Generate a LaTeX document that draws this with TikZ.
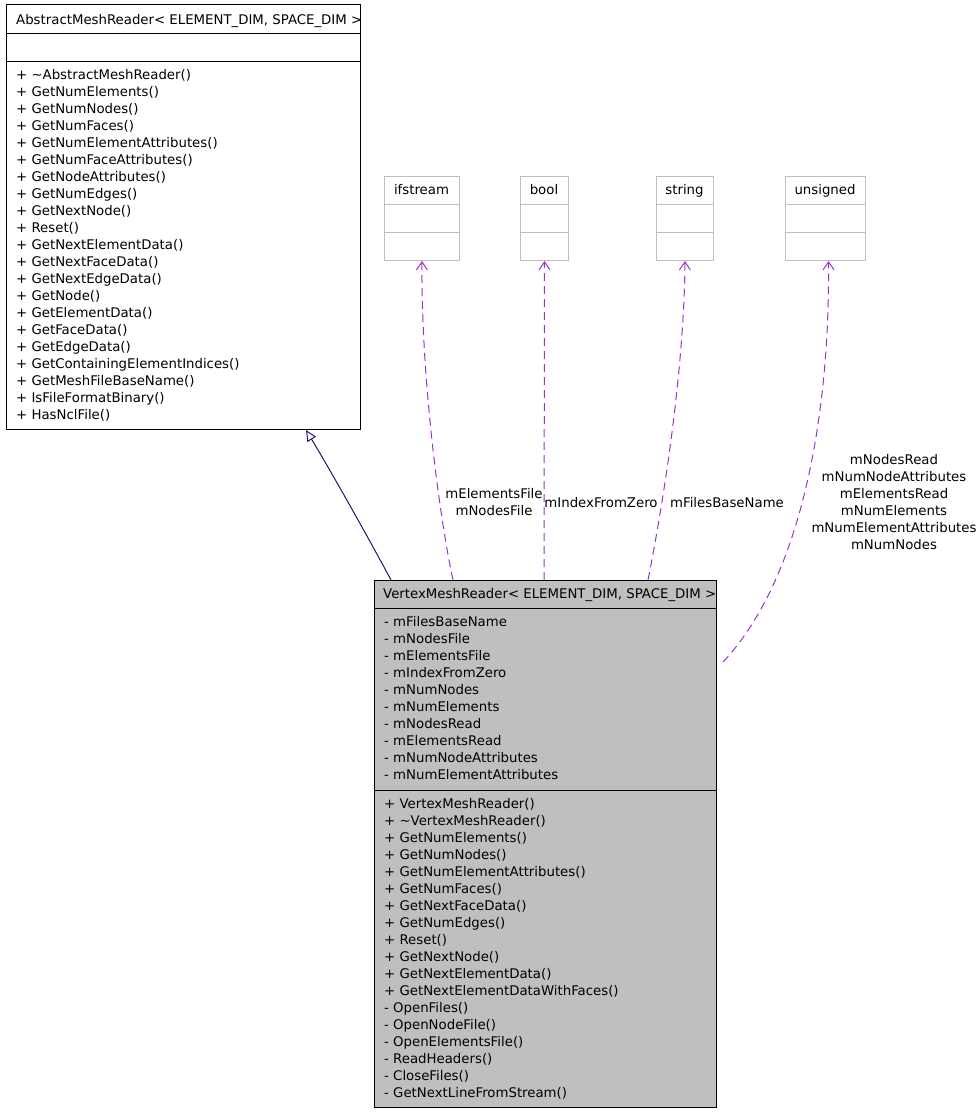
\documentclass[tikz,border=0pt]{standalone}
\usepackage{fontspec}
\setmainfont{DejaVu Sans}
\usetikzlibrary{arrows.meta}

\definecolor{inheritblue}{HTML}{191970}
\definecolor{usepurple}{HTML}{9A32CD}
\definecolor{classgrey}{HTML}{BFBFBF}
\definecolor{framegrey}{HTML}{BFBFBF}

\tikzset{
  box/.style = {draw, line width=1pt, anchor=north west, inner sep=0pt},
  txt/.style = {anchor=base west, inner sep=0pt, font=\fontsize{13.3}{17}\selectfont},
  lbl/.style = {align=center, inner sep=0pt, font=\fontsize{13.3}{17}\selectfont},
  uses/.style = {usepurple, line width=1pt, dash pattern=on 8pt off 5pt,
                 -{Straight Barb[length=8pt, width=11pt]}},
  inherits/.style = {inheritblue, line width=1pt,
                     -{Triangle[open, length=11pt, width=10pt, fill=white]}}
}

\begin{document}
\begin{tikzpicture}[x=1pt, y=-1pt]
        \useasboundingbox (0,0) rectangle (977,1112);
        % base class
        \begin{scope}[name prefix = abstract-]
            \node[box, minimum width=354pt, minimum height=425pt] (box) at (6,4) {};
            \draw[line width=1pt] (6,33) -- (360,33) (6,61) -- (360,61);
            \node[txt] (name) at (16,24) {AbstractMeshReader< ELEMENT\_DIM, SPACE\_DIM >};
            \foreach \op [count=\i from 0] in {\textasciitilde AbstractMeshReader(),
                GetNumElements(), GetNumNodes(), GetNumFaces(), GetNumElementAttributes(),
                GetNumFaceAttributes(), GetNodeAttributes(), GetNumEdges(), GetNextNode(),
                Reset(), GetNextElementData(), GetNextFaceData(), GetNextEdgeData(),
                GetNode(), GetElementData(), GetFaceData(), GetEdgeData(),
                GetContainingElementIndices(), GetMeshFileBaseName(),
                IsFileFormatBinary(), HasNclFile()}
                \node[txt] (op\i) at (16,79+17*\i) {+ \op};
        \end{scope}
        % member types
        \foreach \tname/\xl/\xr in {ifstream/384/459, bool/520/568, string/656/713, unsigned/785/865} {
            \node[box, draw=framegrey, minimum width=\xr-\xl, minimum height=84pt] (\tname) at (\xl,176) {};
            \draw[framegrey, line width=1pt] (\xl,204) -- (\xr,204) (\xl,232) -- (\xr,232);
            \node[txt, anchor=base] (\tname-name) at ({(\xl+\xr)/2},194) {\tname};
        }
        % derived class
        \begin{scope}[name prefix = vertex-]
            \node[box, fill=classgrey, minimum width=342pt, minimum height=527pt] (box) at (374,580) {};
            \draw[line width=1pt] (374,608) -- (716,608) (374,790) -- (716,790);
            \node[txt] (name) at (383,598.5) {VertexMeshReader< ELEMENT\_DIM, SPACE\_DIM >};
            \foreach \att [count=\i from 0] in {mFilesBaseName, mNodesFile, mElementsFile,
                mIndexFromZero, mNumNodes, mNumElements, mNodesRead, mElementsRead,
                mNumNodeAttributes, mNumElementAttributes}
                \node[txt] (att\i) at (384,626+17*\i) {- \att};
            \foreach \op [count=\i from 0] in {+ VertexMeshReader(), + \textasciitilde VertexMeshReader(),
                + GetNumElements(), + GetNumNodes(), + GetNumElementAttributes(), + GetNumFaces(),
                + GetNextFaceData(), + GetNumEdges(), + Reset(), + GetNextNode(),
                + GetNextElementData(), + GetNextElementDataWithFaces(), - OpenFiles(),
                - OpenNodeFile(), - OpenElementsFile(), - ReadHeaders(), - CloseFiles(),
                - GetNextLineFromStream()}
                \node[txt] (op\i) at (384,808+17*\i) {\op};
        \end{scope}
        % connectors
        \draw[inherits] ([xshift=17pt]vertex-box.north west) .. controls (375,550) and (335,478)
            .. ([xshift=300pt]abstract-box.south west);
        \draw[uses] ([xshift=79pt]vertex-box.north west) .. controls (440,520) and (421,380) .. (ifstream.south);
        \draw[uses] ([xshift=170pt]vertex-box.north west) -- (bool.south);
        \draw[uses] ([xshift=274pt]vertex-box.north west) .. controls (660,520) and (684,380) .. (string.south);
        \draw[uses] ([xshift=6pt, yshift=-82pt]vertex-box.north east) .. controls (800,580) and (830,420)
            .. ([xshift=3pt]unsigned.south);
        % roles
        \node[lbl] (ifstream-role) at (494,502.5) {mElementsFile\\mNodesFile};
        \node[lbl] (bool-role) at (601,503) {mIndexFromZero};
        \node[lbl] (string-role) at (727,503) {mFilesBaseName};
        \node[lbl] (unsigned-role) at (894,502.5) {mNodesRead\\mNumNodeAttributes\\mElementsRead\\mNumElements\\mNumElementAttributes\\mNumNodes};
    \end{tikzpicture}
\end{document}
